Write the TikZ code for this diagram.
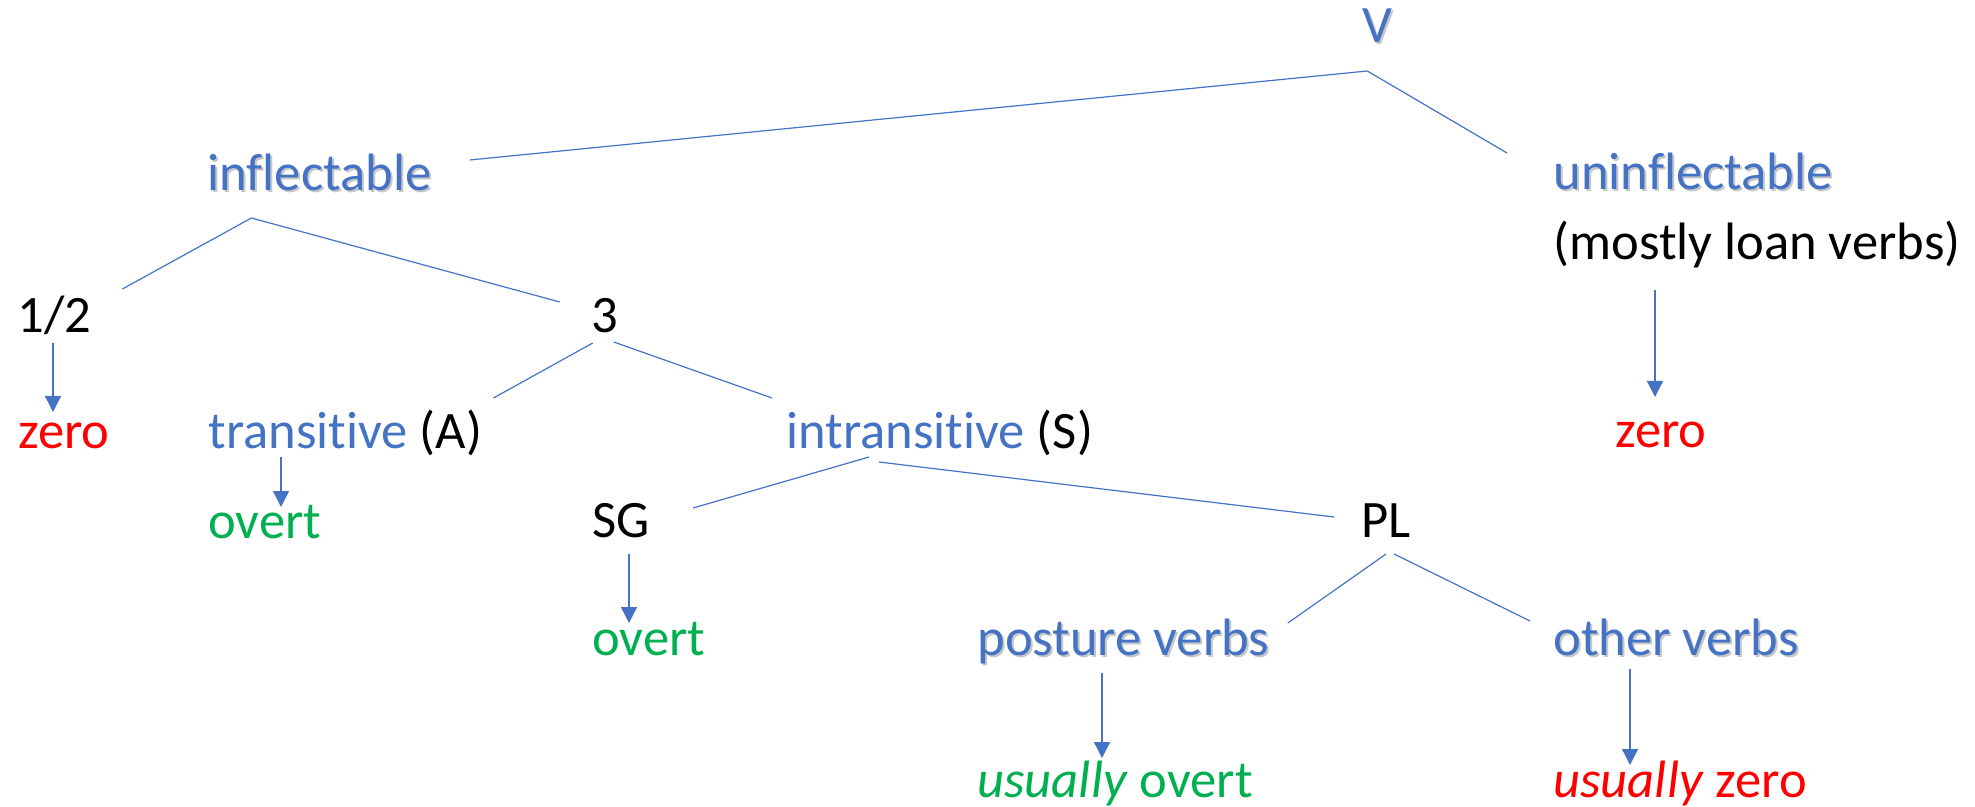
\documentclass[tikz,border=0pt]{standalone}
\usepackage{fontspec}
\setmainfont{Carlito}[Ligatures={NoCommon,NoContextual,NoRequired},Contextuals=NoAlternate]
\usetikzlibrary{arrows.meta,calc}
\definecolor{tbblue}{RGB}{68,114,196}
\definecolor{tbred}{RGB}{255,0,0}
\definecolor{tbgreen}{RGB}{0,176,80}
% blue word with a soft grey shadow
\newcommand{\shtxt}[1]{\rlap{\hspace{1pt}\raisebox{-1pt}{\textcolor{black!22}{#1}}}\textcolor{tbblue}{#1}}
\tikzset{
    word/.style={
        inner sep=0pt, anchor=base west, font=\fontsize{26.3}{30}\selectfont
    },
    branch/.style={
        draw=tbblue, line width=0.6pt
    },
    arrow/.style={
        -{Triangle[length=8pt,width=8pt]}, draw=tbblue, line width=0.7pt
    }
}
\begin{document}
\begin{tikzpicture}[x=0.5pt, y=-0.5pt]
    \useasboundingbox (0,0) rectangle (1975,807);
    % words
    \node[word] (V) at (1362,43) {\shtxt{V}};
    \node[word] (infl) at (207,191) {\shtxt{inflectable}};
    \node[word] (uninfl) at (1553,190) {\shtxt{uninflectable}};
    \node[word] (loan) at (1553,260) {(mostly loan verbs)};
    \node[word, text=tbred] (zeroR) at (1615,447) {zero};
    \node[word] (onetwo) at (17,333) {1/2};
    \node[word] (three) at (591,333) {3};
    \node[word, text=tbred] (zeroL) at (18,448) {zero};
    \node[word] (trans) at (208,449) {\textcolor{tbblue}{transitive} (A)};
    \node[word, text=tbgreen] (overtA) at (208,538) {overt};
    \node[word] (intr) at (786,449) {\textcolor{tbblue}{intransitive} (S)};
    \node[word] (SG) at (592,537) {SG};
    \node[word, text=tbgreen] (overtS) at (592,655) {overt};
    \node[word] (PL) at (1361,537) {PL};
    \node[word] (posture) at (977,655) {\shtxt{posture verbs}};
    \node[word] (other) at (1553,655) {\shtxt{other verbs}};
    \node[word, text=tbgreen] (usovert) at (977,797) {\textit{usually} overt};
    \node[word, text=tbred] (uszero) at (1553,797) {\textit{usually} zero};
    % tree branches
    \draw[branch] ($(V.base)+(-10,28)$) -- ($(infl.base east)+(38,-31)$);
    \draw[branch] ($(V.base)+(-10,28)$) -- ($(uninfl.base west)+(-46,-37)$);
    \draw[branch] ($(infl.base)+(-68,27)$) -- ($(onetwo.base east)+(31,-44)$);
    \draw[branch] ($(infl.base)+(-68,27)$) -- ($(three.base)+(-45,-31)$);
    \draw[branch] ($(three.base)+(-12,10)$) -- ($(trans.base east)+(11,-51)$);
    \draw[branch] ($(three.base)+(9,9)$) -- ($(intr.base west)+(-14,-51)$);
    \draw[branch] ($(intr.base west)+(83,8)$) -- ($(SG.base east)+(43,-29)$);
    \draw[branch] ($(intr.base west)+(93,13)$) -- ($(PL.base west)+(-27,-20)$);
    \draw[branch] ($(PL.base)+(0,17)$) -- ($(posture.base east)+(18,-32)$);
    \draw[branch] ($(PL.base)+(8,17)$) -- ($(other.base west)+(-23,-34)$);
    % marking arrows
    \draw[arrow] ($(onetwo.base west)+(36,10)$) -- ($(zeroL.base west)+(35,-36)$);
    \draw[arrow] ($(trans.base west)+(73,8)$) -- ($(overtA.base west)+(73,-31)$);
    \draw[arrow] ($(loan.base west)+(102,30)$) -- ($(zeroR.base west)+(40,-50)$);
    \draw[arrow] ($(SG.base west)+(37,17)$) -- ($(overtS.base west)+(37,-32)$);
    \draw[arrow] ($(posture.base west)+(125,18)$) -- ($(usovert.base west)+(125,-39)$);
    \draw[arrow] ($(other.base west)+(77,14)$) -- ($(uszero.base west)+(77,-32)$);
\end{tikzpicture}
\end{document}
